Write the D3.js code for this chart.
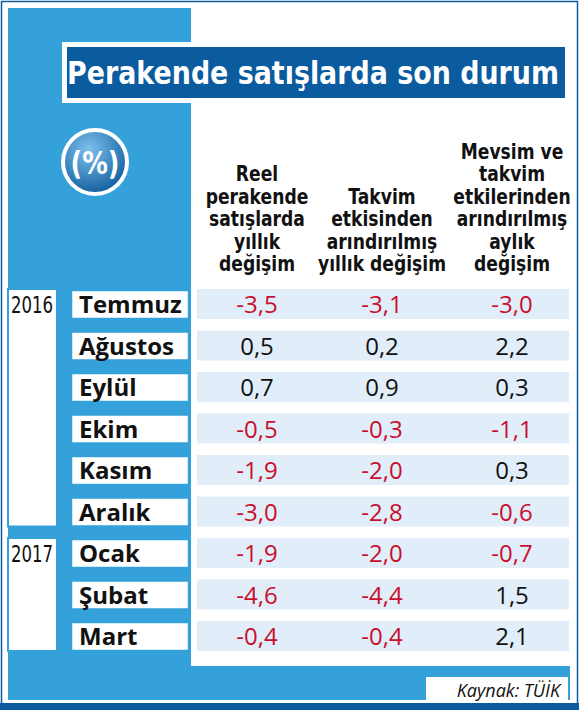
<!DOCTYPE html>
<html><head><meta charset="utf-8">
<script src="https://cdn.jsdelivr.net/npm/d3@7"></script>
<style>body{margin:0;background:#fff}svg{display:block}</style>
</head><body>
<script>
const months = ["Temmuz","Ağustos","Eylül","Ekim","Kasım","Aralık","Ocak","Şubat","Mart"];
const years = [{label:"2016", first:0, last:5},{label:"2017", first:6, last:8}];
const reel = [-3.5,0.5,0.7,-0.5,-1.9,-3.0,-1.9,-4.6,-0.4];
const takvim = [-3.1,0.2,0.9,-0.3,-2.0,-2.8,-2.0,-4.4,-0.4];
const mevsim = [-3.0,2.2,0.3,-1.1,0.3,-0.6,-0.7,1.5,2.1];
const headers = [
  ["Reel","perakende","satışlarda","yıllık","değişim"],
  ["Takvim","etkisinden","arındırılmış","yıllık değişim"],
  ["Mevsim ve","takvim","etkilerinden","arındırılmış","aylık","değişim"]
];
const title = "Perakende satışlarda son durum";
const source = "Kaynak: TÜİK";

const W=579,H=710, blue="#34a1db", dark="#0b5c9e", red="#c8102e";
const svg=d3.select("body").append("svg").attr("width",W).attr("height",H);
const cond="'DejaVu Sans',sans-serif";
// condensed text helper: horizontal scale
function ctext(x,y,txt,size,sx,anchor,fill,weight){
  return svg.append("text").attr("transform",`translate(${x},${y}) scale(${sx},1)`)
    .attr("text-anchor",anchor).attr("font-family",cond).attr("font-weight",weight||"bold")
    .attr("font-size",size).attr("fill",fill).text(txt);
}

svg.append("rect").attr("x",1.5).attr("y",1.5).attr("width",W-3).attr("height",H-3).attr("fill","#fff").attr("stroke",dark).attr("stroke-width",1.5);
svg.append("rect").attr("x",0).attr("y",703).attr("width",W).attr("height",7).attr("fill",dark);
svg.append("rect").attr("x",8).attr("y",8).attr("width",183).attr("height",650).attr("fill",blue);
svg.append("rect").attr("x",8).attr("y",656).attr("width",562).attr("height",44).attr("fill",blue);
svg.append("rect").attr("x",191).attr("y",288).attr("width",379).attr("height",378).attr("fill","#fff");
svg.append("rect").attr("x",426).attr("y",677).attr("width",142).attr("height",23).attr("fill","#fff");
svg.append("text").attr("x",560).attr("y",697).attr("text-anchor","end").attr("font-family","'Open Sans',sans-serif").attr("font-style","italic").attr("font-size",18).attr("fill","#111").text(source);

// title
svg.append("rect").attr("x",62).attr("y",42).attr("width",507).attr("height",61).attr("fill","#fff");
svg.append("rect").attr("x",67).attr("y",47).attr("width",498).attr("height",51).attr("fill",dark);
ctext(313,84,title,32,0.84,"middle","#fff");

// percent circle
const g=svg.append("defs").append("radialGradient").attr("id","pg").attr("cx","40%").attr("cy","30%").attr("r","75%");
g.append("stop").attr("offset","0%").attr("stop-color","#7cc0ec");
g.append("stop").attr("offset","100%").attr("stop-color","#0d5a9c");
svg.append("circle").attr("cx",95).attr("cy",162).attr("r",32).attr("fill","url(#pg)").attr("stroke","#fff").attr("stroke-width",4);
ctext(95,174,"(%)",32,0.8,"middle","#fff");

// headers
const colX=[257,382,512];
headers.forEach((lines,i)=>{
  const bottom=271, lh=22.5;
  lines.forEach((l,j)=>ctext(colX[i],bottom-(lines.length-1-j)*lh,l,22,0.78,"middle","#111"));
});

const y=d3.scalePoint().domain(months).range([304,636]);
svg.selectAll(".stripe").data(months).join("rect").attr("x",197).attr("width",372).attr("y",d=>y(d)-15).attr("height",30).attr("fill","#e1edf8");
svg.selectAll(".mb").data(months).join("rect").attr("x",71).attr("width",118).attr("y",d=>y(d)-14).attr("height",29).attr("fill","#fff").attr("stroke",blue).attr("stroke-width",2.5);
svg.selectAll(".mt").data(months).join("text").attr("x",79).attr("y",d=>y(d)+9).attr("font-family","'Open Sans',sans-serif").attr("font-weight","bold").attr("font-size",24).attr("fill","#111").text(d=>d);
years.forEach(yr=>{
  const t=y(months[yr.first])-15, b=y(months[yr.last])+15;
  svg.append("rect").attr("x",8).attr("y",t).attr("width",49).attr("height",b-t).attr("fill","#fff").attr("stroke",blue).attr("stroke-width",2);
  ctext(32,t+24,yr.label,23,0.72,"middle","#111","normal");
});
const fmt=v=>v.toFixed(1).replace(".",",");
[reel,takvim,mevsim].forEach((arr,i)=>{
  svg.selectAll(".v"+i).data(arr).join("text").attr("x",colX[i]).attr("y",(d,k)=>y(months[k])+9)
    .attr("text-anchor","middle").attr("font-family","'Open Sans',sans-serif").attr("font-size",24)
    .attr("fill",d=>d<0?red:"#111").text(fmt);
});
</script>
</body></html>
